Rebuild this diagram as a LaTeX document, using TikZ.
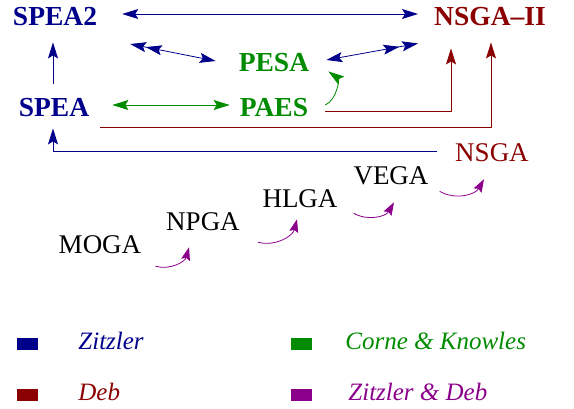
\documentclass[tikz,border=0pt]{standalone}
\usepackage{fontspec}
\setmainfont{Liberation Serif}
\usetikzlibrary{positioning, arrows.meta}
\definecolor{ZitzlerBlue}{HTML}{00008B}
\definecolor{DebRed}{HTML}{8B0000}
\definecolor{CorneGreen}{HTML}{008B00}
\definecolor{BothPurple}{HTML}{8B008B}
\tikzset{
  algo/.style={inner sep=0pt, font=\fontsize{27.5}{30}\selectfont\bfseries},
  oldalgo/.style={inner sep=0pt, font=\fontsize{27}{30}\selectfont},
  link/.style={line width=0.8pt, -{Stealth[length=16pt,width=10pt,inset=3pt]}},
  dlink/.style={line width=0.8pt, {Stealth[length=16pt,width=10pt,inset=3pt]}-{Stealth[length=16pt,width=10pt,inset=3pt]}},
  hop/.style={line width=0.8pt, BothPurple, -{Stealth[length=13pt,width=9pt,inset=2pt]}, bend right=45},
  key/.style={inner sep=0pt, minimum width=21pt, minimum height=12pt},
  keytext/.style={inner sep=0pt, font=\fontsize{25}{28}\selectfont\itshape}
}
\begin{document}
\begin{tikzpicture}[x=1pt, y=-1pt]
  \useasboundingbox (0,0) rectangle (574,409);

  % Algorithms
  \node[algo, ZitzlerBlue] (spea2) at (55,17) {SPEA2};
  \node[algo, DebRed] (nsga2) at (490,17) {NSGA--II};
  \node[algo, CorneGreen] (pesa) at (274,63) {PESA};
  \node[algo, CorneGreen] (paes) at (274,108) {PAES};
  \node[algo, ZitzlerBlue] (spea) at (54,108) {SPEA};
  \node[oldalgo, DebRed] (nsga) at (492,153) {NSGA};
  \node[oldalgo] (vega) at (391,176) {VEGA};
  \node[oldalgo] (hlga) at (300,199) {HLGA};
  \node[oldalgo] (npga) at (203,222) {NPGA};
  \node[oldalgo] (moga) at (100,245) {MOGA};

  % Zitzler
  \draw[dlink, ZitzlerBlue] ([xshift=25pt,yshift=3pt]spea2.east) -- ([xshift=-16pt,yshift=3pt]nsga2.west);
  \draw[ZitzlerBlue, line width=0.8pt, {Stealth[length=16pt,width=10pt,inset=3pt,sep=3pt]Stealth[length=16pt,width=10pt,inset=3pt]}-{Stealth[length=16pt,width=10pt,inset=3pt]}]
    ([xshift=30pt,yshift=-17pt]spea2.south east) -- ([xshift=-23pt,yshift=2pt]pesa.west);
  \draw[ZitzlerBlue, line width=0.8pt, {Stealth[length=16pt,width=10pt,inset=3pt]}-{Stealth[length=16pt,width=10pt,inset=3pt,sep=3pt]Stealth[length=16pt,width=10pt,inset=3pt]}]
    ([xshift=17pt,yshift=3pt]pesa.east) -- ([xshift=-16pt,yshift=-17pt]nsga2.south west);
  \draw[link, ZitzlerBlue] ([xshift=-1pt,yshift=15pt]spea.north) -- ([xshift=-2pt,yshift=-16pt]spea2.south);
  \draw[link, ZitzlerBlue] ([xshift=-18pt,yshift=2pt]nsga.west) -| ([xshift=-1pt,yshift=-11pt]spea.south);

  % Corne & Knowles
  \draw[dlink, CorneGreen] ([xshift=23pt,yshift=3pt]spea.east) -- ([xshift=-10pt,yshift=3pt]paes.west);
  \draw[link, CorneGreen, bend right=60] ([xshift=17pt,yshift=3pt]paes.east) to ([xshift=19pt,yshift=1pt]pesa.south east);

  % Deb
  \draw[link, DebRed] ([xshift=17pt,yshift=-3pt]paes.east) -| ([xshift=-39pt,yshift=-22pt]nsga2.south);
  \draw[link, DebRed] ([xshift=11pt,yshift=-10pt]spea.south east) -| ([xshift=1pt,yshift=-16pt]nsga2.south);

  % Zitzler & Deb
  \draw[hop] ([xshift=14pt,yshift=-12pt]moga.south east) to ([xshift=23pt,yshift=-16pt]npga.south west);
  \draw[hop] ([xshift=18pt,yshift=-11pt]npga.south east) to ([xshift=-3pt,yshift=-11pt]hlga.south);
  \draw[hop] ([xshift=16pt,yshift=-5pt]hlga.south east) to ([xshift=3pt,yshift=-17pt]vega.south);
  \draw[hop] ([xshift=11pt,yshift=-6pt]vega.south east) to ([xshift=-8pt,yshift=-17pt]nsga.south);

  % Legend
  \node[key, fill=ZitzlerBlue] (kzitzler) at (27.5,344) {};
  \node[key, fill=CorneGreen] (kcorne) at (301.5,344) {};
  \node[key, fill=DebRed] (kdeb) at (27.5,395) {};
  \node[key, fill=BothPurple] (kboth) at (301.5,395) {};
  \node[keytext, ZitzlerBlue, right=40pt of kzitzler, yshift=3pt] (tzitzler) {Zitzler};
  \node[keytext, CorneGreen, right=33pt of kcorne, yshift=3pt] (tcorne) {Corne \& Knowles};
  \node[keytext, DebRed, right=40pt of kdeb, yshift=3pt] (tdeb) {Deb};
  \node[keytext, BothPurple, right=36pt of kboth, yshift=3pt] (tboth) {Zitzler \& Deb};
\end{tikzpicture}
\end{document}
